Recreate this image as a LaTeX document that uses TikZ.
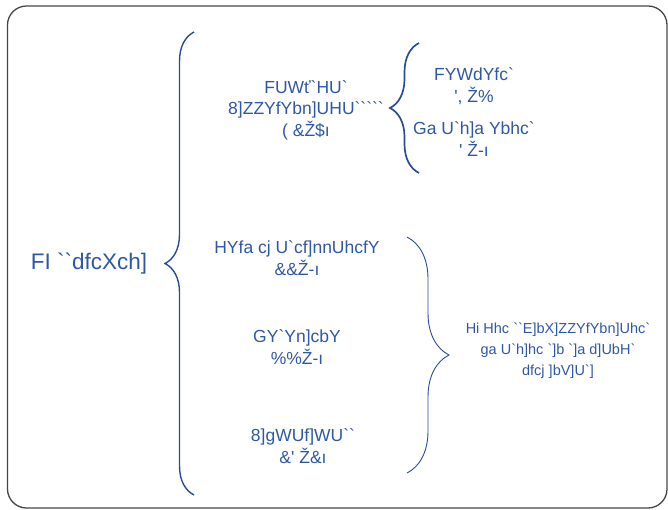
\documentclass[tikz,border=0pt]{standalone}
\usepackage{fontspec}
\setmainfont{Liberation Sans}[Ligatures=TeXOff]
\usepackage{tikz}
\usepackage{xcolor}
\usetikzlibrary{decorations.pathreplacing}
\definecolor{inkblue}{RGB}{46,88,164}
\definecolor{braceblue}{RGB}{40,76,150}
\definecolor{framegray}{RGB}{70,70,70}
\tikzstyle{lbl} = [
    text=inkblue,
    font=\fontsize{17.5}{21.5}\selectfont,
    align=center,
    inner sep=0pt
    ]
\tikzstyle{rootlbl} = [
    lbl,
    font=\fontsize{22.5}{26}\selectfont
    ]
\tikzstyle{curly} = [
    draw=braceblue,
    line width=1.4pt,
    decorate,
    decoration={brace,amplitude=#1}
    ]

\begin{document}
\begin{tikzpicture}[x=1pt,y=-1pt]
\useasboundingbox (0,0) rectangle (668,510);
\draw[framegray, line width=1.3pt, rounded corners=19pt] (7.5,6) rectangle (667,508);

\node [rootlbl] (root) at (89,264) {FI ``dfcXch]};

\node [lbl] (upper) at (306,110) {FUWť`HU`\\8]ZZYfYbn]UHU`````\\( \&Ž\$ı};
\node [lbl] (upperA) at (474,86) {FYWdYfc`\\', Ž\%};
\node [lbl] (upperB) at (474,139) {Ga U`h]a Ybhc`\\' Ž-ı};

\node [lbl] (termA) at (297,258) {HYfa cj U`cf]nnUhcfY\\\&\&Ž-ı};
\node [lbl] (termB) at (297,347) {GY`Yn]cbY\\\%\%Ž-ı};
\node [lbl] (termC) at (303,446) {8]gWUf]WU``\\\&' Ž\&ı};

\node [lbl, font=\fontsize{14.5}{21}\selectfont] (note) at (558,351) {Hi Hhc ``E]bX]ZZYfYbn]Uhc`\\ga U`h]hc `]b `]a d]UbH`\\dfcj ]bV]U`]};

\coordinate (bigtop) at (194,32);
\coordinate (bigbot) at (194,495);
\coordinate (smalltop) at (419,43);
\coordinate (smallbot) at (419,173);
\coordinate (righttop) at (407,237);
\coordinate (rightbot) at (407,473);

\draw [curly=29pt] (bigbot) -- (bigtop);
\draw [curly=29pt, line width=1.7pt] (smallbot) -- (smalltop);
\draw [curly=42pt, line width=0.9pt] (righttop) -- (rightbot);
\end{tikzpicture}
\end{document}
